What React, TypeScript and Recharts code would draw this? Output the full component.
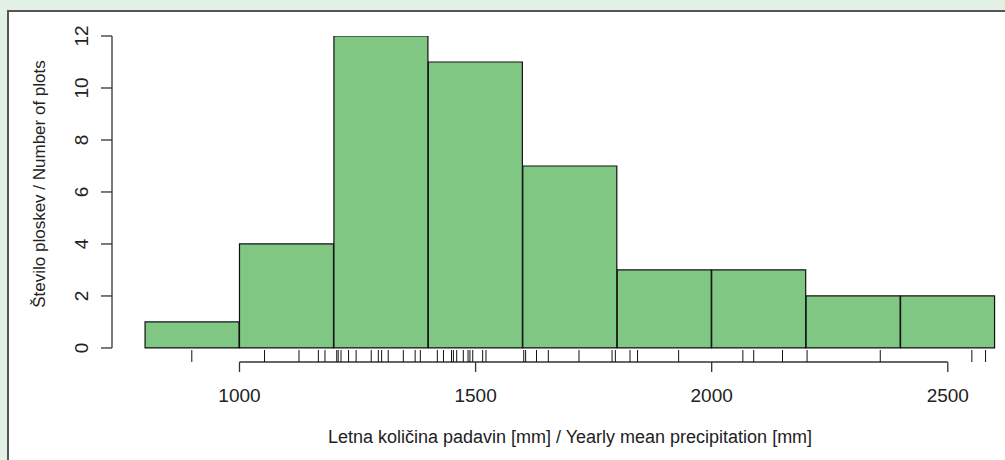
import {
  ComposedChart,
  Bar,
  Scatter,
  XAxis,
  YAxis,
  ReferenceLine,
  Label,
} from "recharts";

// histogram bins (left edge) and counts
const binStarts = [800, 1000, 1200, 1400, 1600, 1800, 2000, 2200, 2400];
const binCounts = [1, 4, 12, 11, 7, 3, 3, 2, 2];
const BIN_WIDTH = 200;

// individual plot values (rug)
const rugValues = [
  899, 1053, 1126, 1167, 1181, 1206, 1209, 1215, 1231, 1247, 1279, 1294,
  1301, 1315, 1347, 1372, 1383, 1419, 1432, 1449, 1453, 1460, 1474, 1484,
  1488, 1494, 1515, 1522, 1602, 1606, 1629, 1654, 1719, 1789, 1796, 1827,
  1843, 1930, 2066, 2089, 2150, 2202, 2357, 2551, 2580,
];

const xTicks = [1000, 1500, 2000, 2500];
const yTicks = [0, 2, 4, 6, 8, 10, 12];

const xTitle = "Letna količina padavin [mm] / Yearly mean precipitation [mm]";
const yTitle = "Število ploskev / Number of plots";

const W = 1005;
const H = 460;
const X_MIN = 730;
const X_MAX = 2600;
const Y_MIN = -0.54;
const Y_MAX = 12;
const M = { top: 36, right: 10, left: 52, bottom: 38 };
const Y_AXIS_W = 60;
const X_AXIS_H = 60;
const PLOT_W = W - M.left - Y_AXIS_W - M.right;
// offset of the first bin edge from the left of the plot, so the category
// axis of the bars lines up with the numeric axis of the ticks and rug
const BIN_PAD = ((binStarts[0] - X_MIN) * PLOT_W) / (X_MAX - X_MIN);

const FONT = "'Liberation Sans', Arial, sans-serif";
const INK = "#222";

const histData = binStarts.map((s, i) => ({
  bin: `${s}-${s + BIN_WIDTH}`,
  x: s + BIN_WIDTH / 2,
  count: binCounts[i],
}));
const rugData = rugValues.map((v) => ({ x: v, y: Y_MIN }));

function XTick({ x, y, payload }: any) {
  return (
    <text x={x} y={y} textAnchor="middle" fontSize={19} fontFamily={FONT} fill={INK}>
      {payload.value}
    </text>
  );
}

function YTick({ x, y, payload }: any) {
  return (
    <text
      x={x}
      y={y}
      textAnchor="middle"
      transform={`rotate(-90, ${x}, ${y})`}
      fontSize={19}
      fontFamily={FONT}
      fill={INK}
    >
      {payload.value}
    </text>
  );
}

function RugMark({ cx, cy }: any) {
  return <line x1={cx} x2={cx} y1={cy} y2={cy - 12} stroke="#111" strokeWidth={1} />;
}

export default function App() {
  return (
    <div
      style={{
        position: "fixed",
        left: 0,
        top: 0,
        width: W,
        height: H,
        overflow: "hidden",
        background: "#e3f0e6",
      }}
    >
      <div
        style={{
          position: "absolute",
          left: 7,
          top: 10,
          width: 1100,
          height: 600,
          background: "#fff",
          border: "2px solid #555",
        }}
      />
      <div style={{ position: "absolute", left: 0, top: 0 }}>
        <ComposedChart
          width={W}
          height={H}
          data={histData}
          margin={M}
          barCategoryGap={0}
          barGap={0}
        >
          <XAxis
            xAxisId="bins"
            dataKey="bin"
            type="category"
            hide
            padding={{ left: BIN_PAD, right: 0 }}
          />
          <XAxis
            dataKey="x"
            type="number"
            domain={[X_MIN, X_MAX]}
            allowDataOverflow
            ticks={xTicks}
            axisLine={false}
            tickSize={10}
            tickMargin={30}
            tickLine={{ stroke: "#333", strokeWidth: 1.3 }}
            tick={<XTick />}
            height={X_AXIS_H}
          >
            <Label
              content={() => (
                <text x={570} y={443} textAnchor="middle" fontSize={18} fontFamily={FONT} fill={INK}>
                  {xTitle}
                </text>
              )}
            />
          </XAxis>
          <YAxis
            type="number"
            domain={[Y_MIN, Y_MAX]}
            allowDataOverflow
            ticks={yTicks}
            axisLine={false}
            tickSize={11}
            tickMargin={13}
            tickLine={{ stroke: "#333", strokeWidth: 1.3 }}
            tick={<YTick />}
            width={Y_AXIS_W}
          >
            <Label
              content={() => (
                <text
                  x={45}
                  y={184}
                  textAnchor="middle"
                  transform="rotate(-90, 45, 184)"
                  fontSize={17}
                  fontFamily={FONT}
                  fill={INK}
                >
                  {yTitle}
                </text>
              )}
            />
          </YAxis>
          <ReferenceLine
            segment={[{ x: xTicks[0], y: Y_MIN }, { x: xTicks[xTicks.length - 1], y: Y_MIN }]}
            stroke="#333"
            strokeWidth={1.3}
            ifOverflow="visible"
          />
          <ReferenceLine
            segment={[{ x: X_MIN, y: yTicks[0] }, { x: X_MIN, y: yTicks[yTicks.length - 1] }]}
            stroke="#333"
            strokeWidth={1.3}
            ifOverflow="visible"
          />
          <Bar
            xAxisId="bins"
            dataKey="count"
            fill="#81c784"
            stroke="#111"
            strokeWidth={1.2}
            isAnimationActive={false}
          />
          <Scatter data={rugData} dataKey="y" shape={<RugMark />} isAnimationActive={false} />
        </ComposedChart>
      </div>
    </div>
  );
}
